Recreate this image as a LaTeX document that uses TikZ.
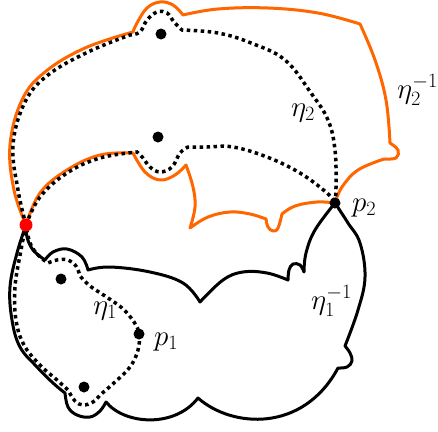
\documentclass[tikz,border=0pt]{standalone}
\usepackage{fix-cm}
\definecolor{myorange}{RGB}{255,102,0}
\tikzset{
 orangeline/.style={draw=myorange, line width=3pt, line join=round, line cap=round},
 blackline/.style={draw=black, line width=3pt, line join=round, line cap=round},
 dotline/.style={draw=black, line width=3.5pt, dash pattern=on 3.5pt off 3.5pt},
 blackpt/.style={circle, fill=black, inner sep=0pt, minimum size=11pt},
 redpt/.style={circle, fill=red, inner sep=0pt, minimum size=13pt},
 lab/.style={font=\fontsize{29}{34}\selectfont, inner sep=0pt, anchor=base west},
 sm/.style={smooth, tension=0.65}
}
\begin{document}
\begin{tikzpicture}[x=1pt,y=-1pt]
\useasboundingbox (0,0) rectangle (438,431);
\coordinate (q) at (26,225);
\coordinate (p2) at (335,203);
\coordinate (p1) at (139,334);
% orange eta_2^{-1}
\draw[orangeline] plot[sm] coordinates {(q) (14,190) (10,145) (22,100) (45,72) (85,48) (133,32)}
 -- plot[sm] coordinates {(133,32) (137,23) (147,8) (160,2) (173,5) (183,15)}
 -- plot[sm] coordinates {(183,15) (218,9) (268,8) (318,13) (360,24)}
 -- plot[sm] coordinates {(360,24) (375,60) (386,100) (390,143)}
 -- plot[sm] coordinates {(390,143) (398,150) (396,158) (384,159)}
 -- plot[sm] coordinates {(384,159) (358,170) (342,187) (p2)}
 -- plot[sm] coordinates {(p2) (317,202) (295,206) (282,214)}
 -- plot[sm] coordinates {(282,214) (278,228) (273,231) (268,227) (266,219)}
 -- plot[sm] coordinates {(266,219) (250,214) (230,212) (208,217) (190,228)}
 -- plot[sm] coordinates {(190,228) (195,207) (193,187) (186,165)}
 -- plot[sm] coordinates {(186,165) (175,175) (160,180) (145,172) (133,153)}
 -- plot[sm] coordinates {(133,153) (100,155) (67,170) (40,193) (q)};
% black eta_1^{-1}
\draw[blackline] plot[sm] coordinates {(q) (17,253) (10,287) (12,320) (20,347) (37,367) (53,383) (65,393)}
 -- plot[sm] coordinates {(65,393) (68,407) (77,415) (90,417) (100,411) (106,402)}
 .. controls (125,425) and (175,428) .. (198,398)
 .. controls (232,428) and (303,433) .. (338,368)
 -- plot[sm] coordinates {(338,368) (347,367) (352,361) (350,353) (345,346)}
 -- plot[sm] coordinates {(345,346) (358,310) (365,277) (360,243) (348,223) (p2)}
 -- plot[sm] coordinates {(p2) (315,230) (306,253) (304,272)}
 -- plot[sm] coordinates {(304,272) (300,265) (293,264) (289,270) (288,280)}
 -- plot[sm] coordinates {(288,280) (267,273) (243,272) (223,280) (200,302)}
 -- plot[sm] coordinates {(200,302) (183,283) (150,272) (110,267) (88,270)}
 -- plot[sm] coordinates {(88,270) (82,257) (67,249) (53,252) (45,260)}
 -- plot[sm] coordinates {(45,260) (33,250) (27,237) (q)};
% dotted eta_1
\draw[dotline] plot[sm] coordinates {(q) (21,250) (15,287) (16,320) (24,345) (40,365) (57,380) (68,390)}
 -- plot[sm] coordinates {(68,390) (75,401) (83,405) (93,402) (100,395)}
 -- plot[sm] coordinates {(100,395) (115,382) (130,367) (138,350) (p1) (134,322) (122,308) (105,296) (90,286) (80,276)}
 -- plot[sm] coordinates {(80,276) (76,266) (68,260) (57,260) (48,263)}
 -- plot[sm] coordinates {(48,263) (38,255) (30,243) (q)};
% dotted eta_2 (upper)
\draw[dotline] plot[sm] coordinates {(q) (18,190) (13,145) (25,102) (48,75) (88,52) (130,35)}
 -- plot[sm] coordinates {(130,35) (140,32) (147,20) (157,12) (167,13) (174,22) (182,30)}
 -- plot[sm] coordinates {(182,30) (218,33) (251,43) (285,60) (311,93) (328,120) (335,150) (336,187) (p2)};
% dotted eta_2 (lower)
\draw[dotline] plot[sm] coordinates {(q) (40,197) (67,173) (100,158) (137,152)}
 -- plot[sm] coordinates {(137,152) (143,158) (150,167) (160,172) (172,167) (180,153) (188,147)}
 -- plot[sm] coordinates {(188,147) (207,147) (233,147) (267,157) (300,173) (327,193) (p2)};
% points
\node[blackpt] (d1) at (161,34) {};
\node[blackpt] (d2) at (158,137) {};
\node[blackpt] (d3) at (61,279) {};
\node[blackpt] (d4) at (84,387) {};
\node[blackpt] (np1) at (p1) {};
\node[blackpt] (np2) at (p2) {};
\node[redpt] (nq) at (q) {};
% labels
\node[lab] (l1) at (291,116) {$\eta_2$};
\node[lab] (l2) at (397,98) {$\eta_2^{-1}$};
\node[lab] (l3) at (352,211) {$p_2$};
\node[lab] (l4) at (154,345) {$p_1$};
\node[lab] (l5) at (93,314) {$\eta_1$};
\node[lab] (l6) at (311,309) {$\eta_1^{-1}$};
\end{tikzpicture}
\end{document}
